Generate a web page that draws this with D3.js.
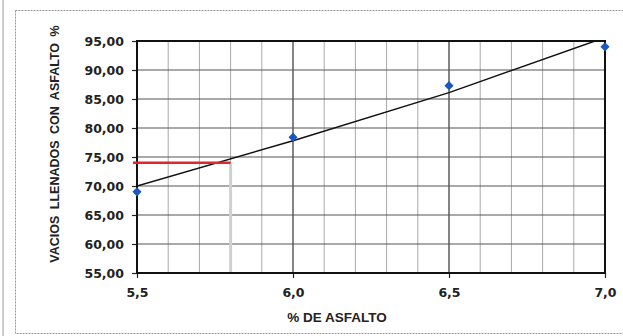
<!DOCTYPE html>
<html><head><meta charset="utf-8">
<script src="https://cdn.jsdelivr.net/npm/d3@7"></script>
<style>body{margin:0;background:#fff}svg{display:block}</style>
</head><body>
<script>
// Data
const asphaltPct = [5.5, 6.0, 6.5, 7.0];
const vfaValues = [69.0, 78.4, 87.3, 94.0];
const trendX = [5.5, 6.0, 6.5, 7.0];
const trendY = [70.0, 77.8, 86.1, 95.6];
const designX = [5.5, 5.8];
const designY = 74.0;
const xTicks = [5.5, 6.0, 6.5, 7.0];
const xMinor = [5.6,5.7,5.8,5.9,6.1,6.2,6.3,6.4,6.6,6.7,6.8,6.9];
const yTicks = [55,60,65,70,75,80,85,90,95];

const W = 623, H = 336;
const m = {l:137, r:18, t:41, b:63};
const svg = d3.select("body").append("svg").attr("width",W).attr("height",H);

// outer frame
svg.append("line").attr("x1",3).attr("x2",3).attr("y1",0).attr("y2",H).attr("stroke","#bbb").attr("stroke-width",1.5);
svg.append("rect").attr("x",15.5).attr("y",10.5).attr("width",W).attr("height",323)
  .attr("fill","none").attr("stroke","#999").attr("stroke-width",1).attr("stroke-dasharray","2,1");

const x = d3.scaleLinear().domain([5.5,7.0]).range([m.l, W-m.r]);
const y = d3.scaleLinear().domain([55,95]).range([H-m.b, m.t]);

const g = svg.append("g");
// minor vertical grid
g.selectAll(".vmin").data(xMinor).join("line")
  .attr("x1",d=>x(d)).attr("x2",d=>x(d)).attr("y1",y(55)).attr("y2",y(95))
  .attr("stroke","#a8a8a8").attr("stroke-width",1);
// major vertical grid
g.selectAll(".vmaj").data(xTicks).join("line")
  .attr("x1",d=>x(d)).attr("x2",d=>x(d)).attr("y1",y(55)).attr("y2",y(95))
  .attr("stroke","#333").attr("stroke-width",1.2);
// horizontal grid
g.selectAll(".hg").data(yTicks).join("line")
  .attr("x1",x(5.5)).attr("x2",x(7.0)).attr("y1",d=>y(d)).attr("y2",d=>y(d))
  .attr("stroke","#555").attr("stroke-width",1.2);

// design gray vertical line
g.append("line").attr("x1",x(designX[1])).attr("x2",x(designX[1]))
  .attr("y1",y(designY)).attr("y2",y(55)).attr("stroke","#d0d0d0").attr("stroke-width",3);

// axes
const yAxis = d3.axisLeft(y).tickValues(yTicks).tickSize(5).tickPadding(8)
  .tickFormat(d=>d3.format(".2f")(d).replace(".",","));
const xAxis = d3.axisBottom(x).tickValues(xTicks).tickSize(5).tickPadding(10)
  .tickFormat(d=>d3.format(".1f")(d).replace(".",","));
const ya = svg.append("g").attr("transform",`translate(${m.l},0)`).call(yAxis);
const xa = svg.append("g").attr("transform",`translate(0,${H-m.b})`).call(xAxis);
[ya,xa].forEach(a=>{
  a.select(".domain").remove();
  a.selectAll(".tick line").attr("stroke","#222").attr("stroke-width",1.2);
  a.selectAll("text").attr("fill","#222").style("font-family","DejaVu Sans").style("font-weight","bold").style("font-size","12.5px");
});

// plot border
svg.append("rect").attr("x",x(5.5)).attr("y",y(95)).attr("width",x(7.0)-x(5.5)).attr("height",y(55)-y(95))
  .attr("fill","none").attr("stroke","#111").attr("stroke-width",2);

// clip
svg.append("clipPath").attr("id","clip").append("rect")
  .attr("x",x(5.5)).attr("y",y(95)).attr("width",x(7.0)-x(5.5)).attr("height",y(55)-y(95));

// trend line
const line = d3.line().x(d=>x(d[0])).y(d=>y(d[1]));
svg.append("path").datum(trendX.map((v,i)=>[v,trendY[i]])).attr("clip-path","url(#clip)")
  .attr("d",line).attr("fill","none").attr("stroke","#111").attr("stroke-width",1.5);

// red design line
svg.append("line").attr("x1",x(designX[0])-4).attr("x2",x(designX[1]))
  .attr("y1",y(designY)).attr("y2",y(designY)).attr("stroke","#e2262b").attr("stroke-width",2.5);

// markers (diamonds)
svg.selectAll(".pt").data(asphaltPct).join("path")
  .attr("transform",(d,i)=>`translate(${x(d)},${y(vfaValues[i])}) rotate(45)`)
  .attr("d",d3.symbol(d3.symbolSquare, 42)())
  .attr("fill","#1b57c4");

// titles
svg.append("text").attr("x",337).attr("y",322).attr("text-anchor","middle")
  .style("font-family","Liberation Sans, Arial").style("font-weight","bold").style("font-size","13.5px")
  .attr("fill","#222").text("% DE ASFALTO");
svg.append("text").attr("transform","translate(59,144) rotate(-90)").attr("text-anchor","middle")
  .style("font-family","Liberation Sans, Arial").style("font-weight","bold").style("font-size","12.5px")
  .style("word-spacing","3px").attr("fill","#222").text("VACIOS LLENADOS CON ASFALTO %");
</script>
</body></html>
